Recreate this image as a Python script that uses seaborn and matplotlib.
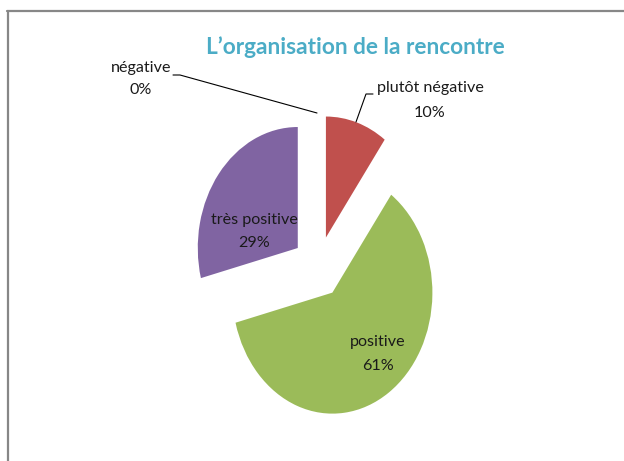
import matplotlib
matplotlib.use("Agg")
import matplotlib.pyplot as plt
import seaborn as sns

sns.set_theme(style="white")
plt.rcParams['font.family'] = ['Lato', 'DejaVu Sans']

categories = ["négative", "plutôt négative", "positive", "très positive"]
values = [0, 10, 61, 29]
pct_labels = ["0%", "10%", "61%", "29%"]
colors = ["#4F81BD", "#C0504D", "#9BBB59", "#8064A2"]
title = "L\u2019organisation de la rencontre"

W, H = 624, 461
fig = plt.figure(figsize=(W / 100, H / 100), dpi=100)
ax = fig.add_axes([0, 0, 1, 1])

cx, cy = 318, 267   # pixel centre of the pie
rx, ry = 100, 121   # pixel radii
ax.pie(values, colors=colors, startangle=90, counterclock=False,
       explode=[0.256] * 4, radius=1, frame=False,
       wedgeprops=dict(linewidth=0))
ax.set_aspect('auto')
ax.set_xlim(-cx / rx, (W - cx) / rx)
ax.set_ylim((cy - H) / ry, cy / ry)
ax.axis('off')

def d(px, py):
    return ((px - cx) / rx, (cy - py) / ry)

tc = "#1a1a1a"
fs = 11.6
# négative 0%
ax.text(*d(141, 68), categories[0], ha='center', va='center', fontsize=fs, color=tc)
ax.text(*d(141, 90), pct_labels[0], ha='center', va='center', fontsize=fs, color=tc)
ax.plot(*zip(d(173, 75), d(180, 75), d(317, 113)), color="#000000", lw=0.8)
# plutôt négative
ax.text(*d(430, 88), categories[1], ha='center', va='center', fontsize=fs, color=tc)
ax.text(*d(430, 113), pct_labels[1], ha='center', va='center', fontsize=fs, color=tc)
ax.plot(*zip(d(373, 94), d(366, 94), d(356, 122)), color="#000000", lw=0.8)
# très positive
ax.text(*d(254, 220), categories[3], ha='center', va='center', fontsize=fs, color=tc)
ax.text(*d(254, 243), pct_labels[3], ha='center', va='center', fontsize=fs, color=tc)
# positive
ax.text(*d(378, 342), categories[2], ha='center', va='center', fontsize=fs, color=tc)
ax.text(*d(378, 366), pct_labels[2], ha='center', va='center', fontsize=fs, color=tc)

# title
fig.text(355 / W, 1 - 47 / H, title, ha='center', va='center',
         fontsize=16.3, fontweight='bold', color="#4BACC6")

# chart border (top and left)
fig.add_artist(plt.Line2D([7.5 / W, 7.5 / W], [0, 1 - 11 / H], color="#878787", lw=1.6,
                          transform=fig.transFigure))
fig.add_artist(plt.Line2D([7 / W, 1], [1 - 11 / H, 1 - 11 / H], color="#878787", lw=1.6,
                          transform=fig.transFigure))

fig.savefig("out.png", dpi=100)
